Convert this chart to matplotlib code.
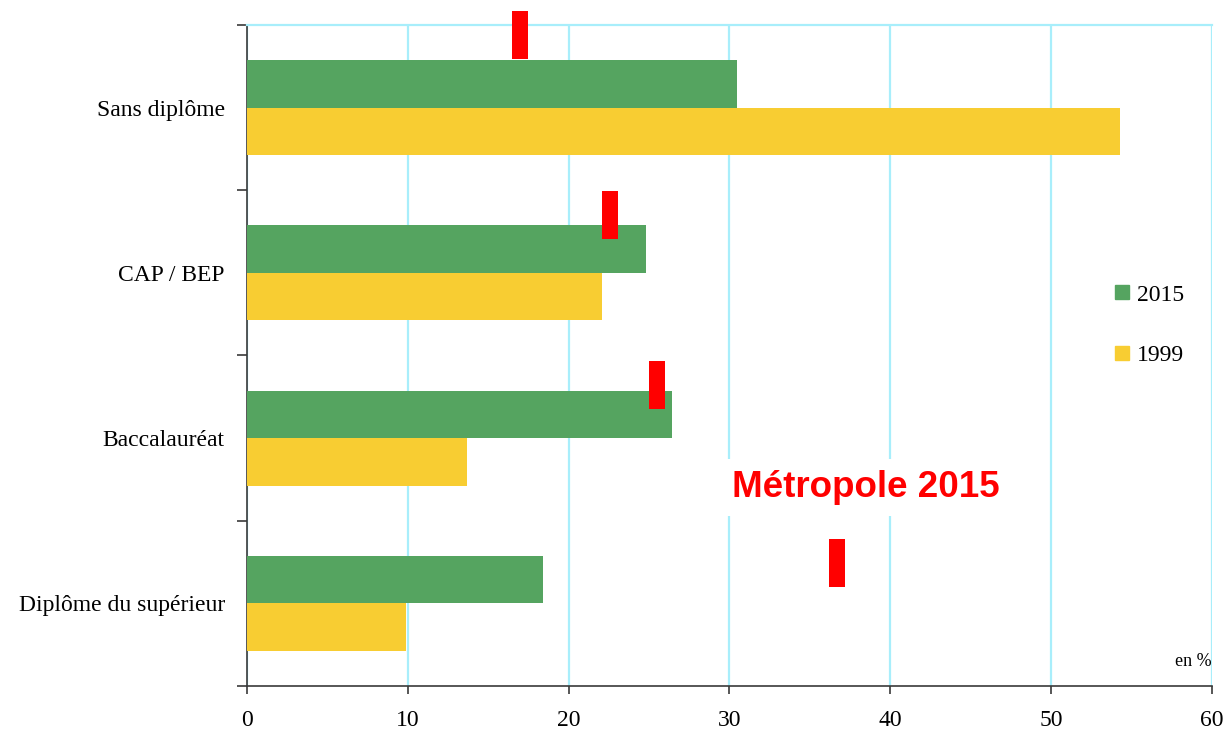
"""Diplômes - 2015 vs 1999, avec repère Métropole 2015"""
import numpy as np
import matplotlib
matplotlib.use('Agg')
import matplotlib.pyplot as plt
from matplotlib.lines import Line2D

# ============== DATA ==============
categories = ['Sans diplôme', 'CAP / BEP', 'Baccalauréat', 'Diplôme du supérieur']
val_2015 = [30.5, 24.8, 26.4, 18.4]
val_1999 = [54.3, 22.1, 13.7, 9.9]
metro_2015 = [17.0, 22.6, 25.5, 36.7]
# vertical shift of the red marks (in category units), as drawn in the source
metro_shift = [-0.44, -0.35, -0.32, -0.245]
# ==================================

GREEN = '#55A460'
YELLOW = '#F8CD32'
RED = '#FF0000'
GRID = '#A8EEFB'
AXIS = '#3A3A3A'

plt.rcParams['font.family'] = ['Liberation Serif', 'DejaVu Serif']

fig = plt.figure(figsize=(12.29, 7.29), dpi=100)
ax = fig.add_axes([0.201, 0.059, 0.785, 0.9067])

y = np.arange(len(categories))
h = 0.287

ax.barh(y - h / 2, val_2015, height=h, color=GREEN, zorder=3)
ax.barh(y + h / 2, val_1999, height=h, color=YELLOW, zorder=3)

# red marks for Métropole 2015
for yi, v, s in zip(y, metro_2015, metro_shift):
    ax.barh(yi + s, 1.0, left=v - 0.5, height=0.29, color=RED, zorder=4, clip_on=False)

ax.set_xlim(0, 60)
ax.set_ylim(len(categories) - 0.5, -0.5)

ax.set_xticks(range(0, 61, 10))
ax.set_yticks(np.arange(-0.5, len(categories), 1.0))
ax.set_yticklabels([])
ax.set_yticks(y, minor=True)
ax.set_yticklabels(categories, minor=True, fontsize=17)
ax.tick_params(axis='y', which='minor', length=0, pad=16)
ax.tick_params(axis='y', which='major', length=7, width=1.2, color=AXIS, direction='out')
ax.tick_params(axis='x', length=6, width=1.2, color=AXIS, labelsize=17, pad=11)

ax.grid(True, axis='x', color=GRID, lw=1.6, zorder=0)
ax.spines['top'].set_color(GRID)
ax.spines['top'].set_linewidth(1.6)
ax.spines['right'].set_visible(False)
for side in ['left', 'bottom']:
    ax.spines[side].set_color(AXIS)
    ax.spines[side].set_linewidth(1.2)

ax.text(38.5, 2.3, 'Métropole 2015', color=RED, fontsize=26.5, fontweight='bold',
        family=['Liberation Sans', 'DejaVu Sans'], ha='center', va='center', zorder=5,
        bbox=dict(facecolor='white', edgecolor='none', pad=8))

ax.text(60, 3.35, 'en %', fontsize=13, ha='right', va='center')

ax.legend(handles=[
    Line2D([0], [0], marker='s', color='w', markerfacecolor=GREEN, markeredgecolor=GREEN, ms=10.5, label='2015'),
    Line2D([0], [0], marker='s', color='w', markerfacecolor=YELLOW, markeredgecolor=YELLOW, ms=10.5, label='1999'),
], loc='center left', bbox_to_anchor=(0.878, 0.546), frameon=False, fontsize=17,
    handlelength=0.6, handletextpad=0.3, labelspacing=1.65)

fig.savefig('out.png', dpi=100)
